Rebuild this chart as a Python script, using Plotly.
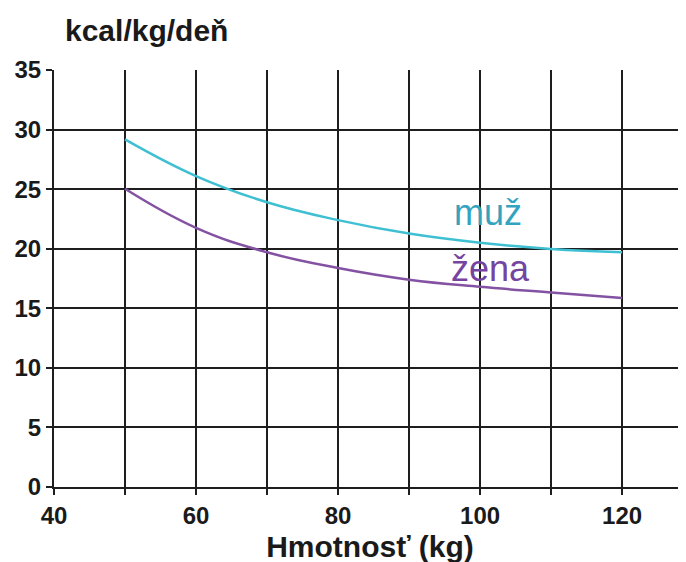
import plotly.graph_objects as go

weight = [50, 60, 70, 80, 90, 100, 110, 120]
muz = [29.18, 26.1, 23.9, 22.4, 21.27, 20.5, 19.98, 19.7]
zena = [25.03, 21.75, 19.7, 18.38, 17.4, 16.8, 16.33, 15.86]

x_tickvals = [40, 50, 60, 70, 80, 90, 100, 110, 120, 130]
x_ticktext = ["<b>40</b>", "", "<b>60</b>", "", "<b>80</b>", "", "<b>100</b>", "", "<b>120</b>", ""]
y_tickvals = [0, 5, 10, 15, 20, 25, 30, 35]
y_ticktext = ["<b>0</b>", "<b>5</b>", "<b>10</b>", "<b>15</b>", "<b>20</b>", "<b>25</b>", "<b>30</b>", "<b>35</b>"]

muz_color = "#3ec0d2"
zena_color = "#8452a2"
font_family = "Liberation Sans, Arial, sans-serif"
ink = "#1a1a1a"

# the page body has an 8px margin, so the figure is offset by (8, 8)
fig = go.Figure()
fig.add_trace(go.Scatter(x=weight, y=muz, mode="lines",
                         line=dict(color=muz_color, width=2.5, shape="spline", smoothing=1.2),
                         name="muž", showlegend=False))
fig.add_trace(go.Scatter(x=weight, y=zena, mode="lines",
                         line=dict(color=zena_color, width=2.5, shape="spline", smoothing=1.2),
                         name="žena", showlegend=False))

fig.add_annotation(x=101.05, y=23.0, text="muž", showarrow=False, xref="x", yref="y",
                   font=dict(family=font_family, size=36, color="#33a4bf"))
fig.add_annotation(x=101.5, y=18.35, text="žena", showarrow=False, xref="x", yref="y",
                   font=dict(family=font_family, size=36, color="#7444a0"))

fig.update_layout(
    width=686, height=562,
    margin=dict(l=46, r=8, t=62, b=83),
    paper_bgcolor="white", plot_bgcolor="white",
    title=dict(text="<b>kcal/kg/deň</b>", x=57/686, xanchor="left", xref="container",
               y=1-22/562, yanchor="middle", yref="container",
               font=dict(family=font_family, size=30, color=ink)),
    font=dict(family=font_family, color=ink),
)
fig.update_xaxes(range=[40, 129], tickvals=x_tickvals, ticktext=x_ticktext,
                 showgrid=True, gridcolor="#1e1e1e", gridwidth=2,
                 showline=True, linecolor="#1e1e1e", linewidth=2,
                 ticks="outside", ticklen=6, tickwidth=2, tickcolor="#1e1e1e",
                 tickfont=dict(family=font_family, size=24, color=ink),
                 zeroline=False, automargin=False,
                 title=dict(text="<b>Hmotnosť (kg)</b>", standoff=8,
                            font=dict(family=font_family, size=30, color=ink)))
fig.update_yaxes(range=[0, 35], tickvals=y_tickvals, ticktext=y_ticktext,
                 showgrid=True, gridcolor="#1e1e1e", gridwidth=2,
                 showline=True, linecolor="#1e1e1e", linewidth=2,
                 ticks="outside", ticklen=6, tickwidth=2, tickcolor="#1e1e1e",
                 tickfont=dict(family=font_family, size=24, color=ink),
                 zeroline=False, automargin=False)

fig.write_html("out.html")
